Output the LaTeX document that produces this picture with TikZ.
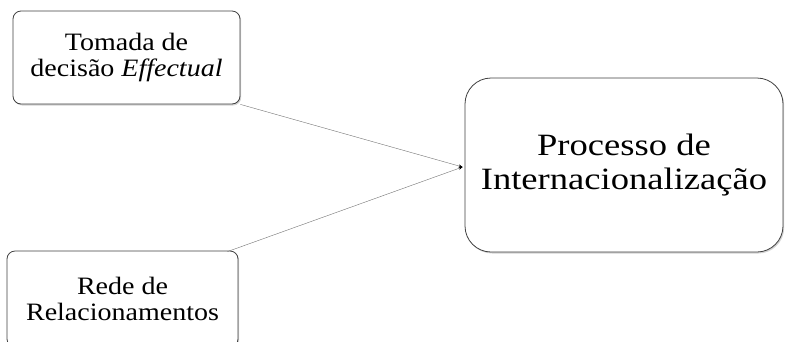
\documentclass[tikz,border=0pt]{standalone}
\usepackage{fontspec}
\setmainfont{Liberation Serif}
\newfontfamily\fontelarga[FakeStretch=1.12]{Liberation Serif}
\newfontfamily\fontelargab[FakeStretch=1.18]{Liberation Serif}
\usepackage{tikz}
\usetikzlibrary{shadows,arrows.meta}

\tikzset{
  caixa/.style={draw=black!75,line width=0.8pt,fill=white,align=center,
    drop shadow={shadow xshift=1.2pt,shadow yshift=-1.5pt,opacity=0.35}},
  ligacao/.style={draw=black!55,line width=0.4pt,-{Stealth[length=4pt,width=3pt,black]}}
}

\begin{document}
\begin{tikzpicture}[x=1pt,y=-1pt]
\useasboundingbox (0,0) rectangle (786,341);
\clip (0,0) rectangle (786,341);

\node[caixa,rounded corners=8pt,minimum width=227pt,minimum height=93pt,
  font=\fontelarga\fontsize{25}{26.5}\selectfont] (tomada) at (126.5,57.5)
  {Tomada de\\decisão \textit{Effectual}};
\node[caixa,rounded corners=8pt,minimum width=231pt,minimum height=96pt,
  font=\fontelarga\fontsize{25}{26.5}\selectfont] (rede) at (122.5,299)
  {Rede de\\Relacionamentos};
\node[caixa,rounded corners=26pt,minimum width=318pt,minimum height=174pt,
  font=\fontelargab\fontsize{31}{34}\selectfont] (processo) at (624,165)
  {Processo de\\Internacionalização};

\coordinate (chegada) at ([xshift=-2pt,yshift=-2pt]processo.west);
\draw[ligacao] (tomada.south east) -- (chegada);
\draw[ligacao] ([xshift=-11pt,yshift=-1pt]rede.north east) -- (chegada);

\end{tikzpicture}
\end{document}
